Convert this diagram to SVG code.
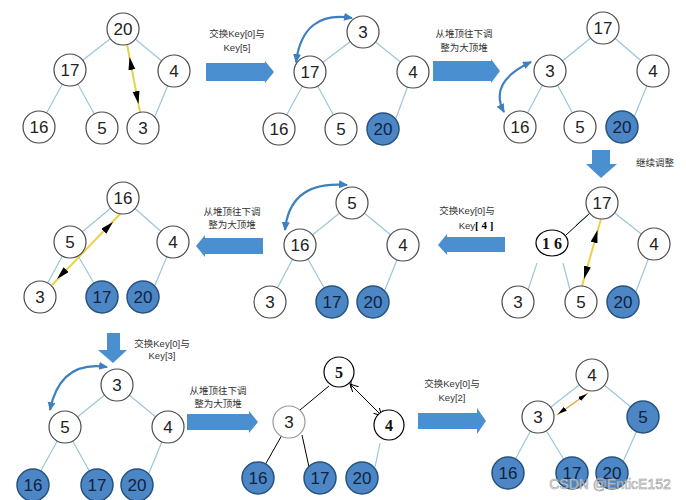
<svg xmlns="http://www.w3.org/2000/svg" width="686" height="500" viewBox="0 0 686 500">
<style>
.w circle{fill:#fff;stroke:#4a4a4a;stroke-width:1.2}
.f circle{fill:#4d86c4;stroke:#25527f;stroke-width:1.5}
.w text{fill:#222}
.f text{fill:#0e2340}
.n text{font-family:"Liberation Sans","DejaVu Sans",sans-serif;font-size:17px;text-anchor:middle}
.s circle,.s ellipse{fill:#fff;stroke:#000;stroke-width:1.2}
.s text{font-family:"Liberation Serif","DejaVu Serif",serif;font-weight:bold;font-size:16px;text-anchor:middle;fill:#111}
.e{stroke:#9cc6d9;stroke-width:1.2;fill:none}
.k{stroke:#000;stroke-width:1;fill:none}
.ba{fill:#4a8fcf}
.cv{stroke:#3d7fbf;stroke-width:2.2;fill:none;marker-start:url(#bh);marker-end:url(#bh)}
.yl{stroke:#e9d24a;stroke-width:2;fill:none}
.lb{font-family:"Liberation Sans","Noto Sans CJK SC",sans-serif;font-size:9.5px;fill:#333;text-anchor:middle}
</style>
<defs>
<marker id="bh" markerUnits="userSpaceOnUse" markerWidth="10" markerHeight="10" refX="8" refY="4" orient="auto-start-reverse"><path d="M0,0 L9,4 L0,8 z" fill="#3d7fbf"/></marker>
<marker id="tri" markerUnits="userSpaceOnUse" markerWidth="14" markerHeight="8" refX="13" refY="3.5" orient="auto"><path d="M0,0 L13,3.5 L0,7 z" fill="#000"/></marker>
<marker id="tris" markerUnits="userSpaceOnUse" markerWidth="10" markerHeight="6" refX="9" refY="2.5" orient="auto"><path d="M0,0 L9,2.5 L0,5 z" fill="#000"/></marker>
<marker id="open" markerUnits="userSpaceOnUse" markerWidth="10" markerHeight="10" refX="8" refY="4" orient="auto-start-reverse"><path d="M0,0 L8,4 L0,8" fill="none" stroke="#000" stroke-width="1"/></marker>
</defs>
<rect width="686" height="500" fill="#fff"/>

<g id="connectors">
<!-- tree 1 -->
<path class="e" d="M123,29 L70,70 M123,29 L174,71 M70,70 L39,127 M70,70 L102,128 M174,71 L150,128"/>
<!-- tree 2 -->
<path class="e" d="M363,32 L310,72 M363,32 L413,72 M310,72 L279,129 M310,72 L341,129 M413,72 L392,129"/>
<!-- tree 3 -->
<path class="e" d="M603,28 L550,71 M603,28 L653,71 M550,71 L520,127 M550,71 L580,127 M653,71 L630,127"/>
<!-- tree 4 -->
<path class="e" d="M602,203 L654,244 M588,215 L576,225 M537,263 L528,290 M563,263 L570,290 M654,244 L632,302"/>
<path class="k" d="M590,213 L566,235"/>
<!-- tree 5 -->
<path class="e" d="M352,203 L300,245 M352,203 L403,245 M300,245 L270,302 M300,245 L332,302 M403,245 L380,302"/>
<!-- tree 6 -->
<path class="e" d="M123,198 L70,242 M123,198 L173,242 M70,242 L40,297 M70,242 L102,297 M173,242 L150,297"/>
<!-- tree 7 -->
<path class="e" d="M117,385 L65,427 M117,385 L168,427 M65,427 L33,485 M65,427 L97,485 M168,427 L144,485"/>
<!-- tree 8 -->
<path class="k" d="M329,386 L300,410 M282,435 L265,465 M302,435 L309,467"/>
<path class="e" d="M380,443 L375,467" stroke="#aab"/>
<!-- tree 9 -->
<path class="e" d="M592,375 L538,417 M592,375 L643,417 M538,417 L508,473 M538,417 L572,473 M643,417 L618,473"/>

<!-- block arrows -->
<path class="ba" d="M206,63 L265,63 L265,61 L274,72 L265,83 L265,81 L206,81 Z"/>
<path class="ba" d="M433,61 L491,61 L491,59 L500,71 L491,83 L491,81 L433,81 Z"/>
<path class="ba" d="M592,150 L610,150 L610,164 L617,164 L601,178 L586,164 L592,164 Z"/>
<path class="ba" d="M505,237 L447,237 L447,234 L438,245 L447,255 L447,252 L505,252 Z"/>
<path class="ba" d="M263,238 L205,238 L205,235 L196,246 L205,257 L205,254 L263,254 Z"/>
<path class="ba" d="M107,333 L120,333 L120,350 L127,350 L113,363 L98,350 L107,350 Z"/>
<path class="ba" d="M187,414 L249,414 L249,411 L258,422 L249,433 L249,430 L187,430 Z"/>
<path class="ba" d="M418,413 L477,413 L477,408 L486,421 L477,434 L477,429 L418,429 Z"/>

<!-- curved swap arrows -->
<path class="cv" d="M296,62 Q303,10 352,18"/>
<path class="cv" d="M531,62 Q488,82 504,112"/>
<path class="cv" d="M285,230 Q290,180 347,185"/>
<path class="cv" d="M50,410 Q60,360 107,367"/>

<!-- yellow swap arrows -->
<path class="yl" d="M127,44 L140,112"/>
<path d="M133.5,78 L129.5,57" stroke="none" fill="none" marker-end="url(#tri)"/>
<path d="M133.5,78 L138.5,104" stroke="none" fill="none" marker-end="url(#tri)"/>
<path class="yl" d="M601,219 L582,286"/>
<path d="M592,250 L597.5,230" stroke="none" fill="none" marker-end="url(#tri)"/>
<path d="M592,250 L584,279" stroke="none" fill="none" marker-end="url(#tri)"/>
<path class="yl" d="M122,212 L52,285"/>
<path d="M87,248 L113,222" stroke="none" fill="none" marker-end="url(#tri)"/>
<path d="M87,248 L57,279" stroke="none" fill="none" marker-end="url(#tri)"/>
<path d="M588,393 L557,415" stroke="#e0a640" stroke-width="1.5" fill="none"/>
<path d="M572,404 L587,394" stroke="none" fill="none" marker-end="url(#tris)"/>
<path d="M572,404 L558,414" stroke="none" fill="none" marker-end="url(#tris)"/>
<!-- black double arrow tree 8 -->
<path class="k" d="M350,384 L382,416" marker-start="url(#open)" marker-end="url(#open)"/>
<path class="k" d="M351,378 L351,388 M383,410 L383,419"/>
</g>

<!-- tree 1 -->
<g id="t1-20" class="n w"><circle cx="123" cy="29" r="16"/><text x="123" y="35">20</text></g>
<g id="t1-17" class="n w"><circle cx="70" cy="70" r="16"/><text x="70" y="76">17</text></g>
<g id="t1-4" class="n w"><circle cx="174" cy="71" r="16"/><text x="174" y="77">4</text></g>
<g id="t1-16" class="n w"><circle cx="39" cy="127" r="16"/><text x="39" y="133">16</text></g>
<g id="t1-5" class="n w"><circle cx="102" cy="128" r="16"/><text x="102" y="134">5</text></g>
<g id="t1-3" class="n w"><circle cx="143" cy="128" r="16"/><text x="143" y="134">3</text></g>
<!-- tree 2 -->
<g id="t2-3" class="n w"><circle cx="363" cy="32" r="16"/><text x="363" y="38">3</text></g>
<g id="t2-17" class="n w"><circle cx="310" cy="72" r="16"/><text x="310" y="78">17</text></g>
<g id="t2-4" class="n w"><circle cx="413" cy="72" r="16"/><text x="413" y="78">4</text></g>
<g id="t2-16" class="n w"><circle cx="279" cy="129" r="16"/><text x="279" y="135">16</text></g>
<g id="t2-5" class="n w"><circle cx="341" cy="129" r="16"/><text x="341" y="135">5</text></g>
<g id="t2-20" class="n f"><circle cx="383" cy="129" r="16"/><text x="383" y="135">20</text></g>
<!-- tree 3 -->
<g id="t3-17" class="n w"><circle cx="603" cy="28" r="16"/><text x="603" y="34">17</text></g>
<g id="t3-3" class="n w"><circle cx="550" cy="71" r="16"/><text x="550" y="77">3</text></g>
<g id="t3-4" class="n w"><circle cx="653" cy="71" r="16"/><text x="653" y="77">4</text></g>
<g id="t3-16" class="n w"><circle cx="520" cy="127" r="16"/><text x="520" y="133">16</text></g>
<g id="t3-5" class="n w"><circle cx="580" cy="127" r="16"/><text x="580" y="133">5</text></g>
<g id="t3-20" class="n f"><circle cx="622" cy="127" r="16"/><text x="622" y="133">20</text></g>
<!-- tree 4 -->
<g id="t4-17" class="n w"><circle cx="602" cy="203" r="16"/><text x="602" y="209">17</text></g>
<g id="t4-16" class="s"><ellipse cx="552" cy="243" rx="16" ry="13"/><text x="552" y="249">1 6</text></g>
<g id="t4-4" class="n w"><circle cx="654" cy="244" r="16"/><text x="654" y="250">4</text></g>
<g id="t4-3" class="n w"><circle cx="518" cy="302" r="16"/><text x="518" y="308">3</text></g>
<g id="t4-5" class="n w"><circle cx="581" cy="302" r="16"/><text x="581" y="308">5</text></g>
<g id="t4-20" class="n f"><circle cx="623" cy="302" r="16"/><text x="623" y="308">20</text></g>
<!-- tree 5 -->
<g id="t5-5" class="n w"><circle cx="352" cy="203" r="16"/><text x="352" y="209">5</text></g>
<g id="t5-16" class="n w"><circle cx="300" cy="245" r="16"/><text x="300" y="251">16</text></g>
<g id="t5-4" class="n w"><circle cx="403" cy="245" r="16"/><text x="403" y="251">4</text></g>
<g id="t5-3" class="n w"><circle cx="270" cy="302" r="16"/><text x="270" y="308">3</text></g>
<g id="t5-17" class="n f"><circle cx="332" cy="302" r="16"/><text x="332" y="308">17</text></g>
<g id="t5-20" class="n f"><circle cx="373" cy="302" r="16"/><text x="373" y="308">20</text></g>
<!-- tree 6 -->
<g id="t6-16" class="n w"><circle cx="123" cy="198" r="16"/><text x="123" y="204">16</text></g>
<g id="t6-5" class="n w"><circle cx="70" cy="242" r="16"/><text x="70" y="248">5</text></g>
<g id="t6-4" class="n w"><circle cx="173" cy="242" r="16"/><text x="173" y="248">4</text></g>
<g id="t6-3" class="n w"><circle cx="40" cy="297" r="16"/><text x="40" y="303">3</text></g>
<g id="t6-17" class="n f"><circle cx="102" cy="297" r="16"/><text x="102" y="303">17</text></g>
<g id="t6-20" class="n f"><circle cx="143" cy="297" r="16"/><text x="143" y="303">20</text></g>
<!-- tree 7 -->
<g id="t7-3" class="n w"><circle cx="117" cy="385" r="16"/><text x="117" y="391">3</text></g>
<g id="t7-5" class="n w"><circle cx="65" cy="427" r="16"/><text x="65" y="433">5</text></g>
<g id="t7-4" class="n w"><circle cx="168" cy="427" r="16"/><text x="168" y="433">4</text></g>
<g id="t7-16" class="n f"><circle cx="33" cy="485" r="16"/><text x="33" y="491">16</text></g>
<g id="t7-17" class="n f"><circle cx="97" cy="485" r="16"/><text x="97" y="491">17</text></g>
<g id="t7-20" class="n f"><circle cx="137" cy="485" r="16"/><text x="137" y="491">20</text></g>
<!-- tree 8 -->
<g id="t8-5" class="s"><circle cx="339" cy="372" r="15"/><text x="339" y="378">5</text></g>
<g id="t8-3" class="n w"><circle cx="289" cy="422" r="16" style="stroke:#999"/><text x="289" y="428">3</text></g>
<g id="t8-4" class="s"><circle cx="389" cy="425" r="15"/><text x="389" y="431">4</text></g>
<g id="t8-16" class="n f"><circle cx="258" cy="478" r="16"/><text x="258" y="484">16</text></g>
<g id="t8-17" class="n f"><circle cx="320" cy="478" r="16"/><text x="320" y="484">17</text></g>
<g id="t8-20" class="n f"><circle cx="362" cy="478" r="16"/><text x="362" y="484">20</text></g>
<!-- tree 9 -->
<g id="t9-4" class="n w"><circle cx="592" cy="375" r="16"/><text x="592" y="381">4</text></g>
<g id="t9-3" class="n w"><circle cx="538" cy="417" r="16"/><text x="538" y="423">3</text></g>
<g id="t9-5" class="n f"><circle cx="643" cy="417" r="16"/><text x="643" y="423">5</text></g>
<g id="t9-16" class="n f"><circle cx="508" cy="473" r="16"/><text x="508" y="479">16</text></g>
<g id="t9-17" class="n f"><circle cx="572" cy="473" r="16"/><text x="572" y="479">17</text></g>
<g id="t9-20" class="n f"><circle cx="612" cy="473" r="16"/><text x="612" y="479">20</text></g>

<g id="labels">
<text class="lb" x="237" y="37">交换Key[0]与</text>
<text class="lb" x="237" y="51">Key[5]</text>
<text class="lb" x="464" y="37">从堆顶往下调</text>
<text class="lb" x="464" y="51">整为大顶堆</text>
<text class="lb" x="655" y="166">继续调整</text>
<text class="lb" x="467" y="214">交换Key[0]与</text>
<text class="lb" x="476" y="229">Key<tspan font-family="Liberation Serif,serif" font-weight="bold" font-size="11" fill="#000">[ 4 ]</tspan></text>
<text class="lb" x="232" y="215">从堆顶往下调</text>
<text class="lb" x="232" y="228">整为大顶堆</text>
<text class="lb" x="162" y="347">交换Key[0]与</text>
<text class="lb" x="162" y="359">Key[3]</text>
<text class="lb" x="218" y="394">从堆顶往下调</text>
<text class="lb" x="218" y="407">整为大顶堆</text>
<text class="lb" x="452" y="387">交换Key[0]与</text>
<text class="lb" x="452" y="401">Key[2]</text>
</g>
<text x="610" y="489" font-family="Liberation Sans,sans-serif" font-size="14" text-anchor="middle" fill="#fff" fill-opacity="0.7" stroke="#9a9a9a" stroke-width="0.6">CSDN @EnticE152</text>
</svg>
